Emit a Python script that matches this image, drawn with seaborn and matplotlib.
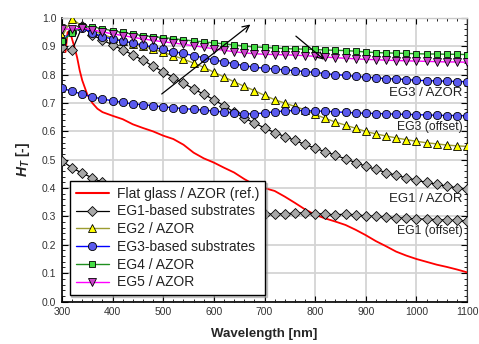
import numpy as np
import pandas as pd
import matplotlib
matplotlib.use("Agg")
import matplotlib.pyplot as plt
from matplotlib.lines import Line2D
from matplotlib.ticker import MultipleLocator, FormatStrFormatter
import seaborn as sns

# ---------------- data ----------------
wl = list(range(300, 1101, 20))

eg1_azor = [0.896, 0.886, 0.970, 0.940, 0.922, 0.905, 0.888, 0.870, 0.851, 0.830,
            0.810, 0.790, 0.770, 0.750, 0.731, 0.712, 0.690, 0.668, 0.647, 0.630,
            0.612, 0.596, 0.582, 0.568, 0.554, 0.541, 0.528, 0.516, 0.503, 0.490,
            0.477, 0.466, 0.455, 0.445, 0.436, 0.428, 0.420, 0.413, 0.407, 0.401, 0.396]
eg1_offset = [0.496, 0.471, 0.453, 0.436, 0.420, 0.405, 0.390, 0.380, 0.370, 0.360,
              0.352, 0.345, 0.338, 0.332, 0.327, 0.322, 0.318, 0.315, 0.312, 0.310,
              0.309, 0.308, 0.310, 0.311, 0.313, 0.310, 0.308, 0.306, 0.308, 0.306,
              0.302, 0.300, 0.297, 0.296, 0.293, 0.292, 0.290, 0.289, 0.287, 0.286, 0.283]
eg2_azor = [0.935, 0.998, 0.970, 0.955, 0.942, 0.930, 0.920, 0.910, 0.900, 0.890,
            0.879, 0.867, 0.855, 0.841, 0.826, 0.809, 0.792, 0.775, 0.759, 0.744,
            0.727, 0.712, 0.700, 0.688, 0.676, 0.660, 0.646, 0.633, 0.622, 0.611,
            0.600, 0.591, 0.584, 0.577, 0.571, 0.565, 0.560, 0.556, 0.552, 0.549, 0.547]
eg3_azor = [0.920, 0.952, 0.965, 0.948, 0.934, 0.926, 0.918, 0.912, 0.904, 0.897,
            0.889, 0.881, 0.875, 0.867, 0.860, 0.852, 0.846, 0.838, 0.832, 0.826,
            0.823, 0.820, 0.817, 0.814, 0.811, 0.808, 0.804, 0.800, 0.798, 0.794,
            0.791, 0.789, 0.786, 0.785, 0.783, 0.780, 0.779, 0.778, 0.777, 0.776, 0.775]
eg3_offset = [0.753, 0.741, 0.732, 0.722, 0.714, 0.708, 0.702, 0.697, 0.694, 0.691,
              0.686, 0.684, 0.680, 0.678, 0.675, 0.672, 0.668, 0.665, 0.662, 0.662,
              0.665, 0.669, 0.672, 0.674, 0.673, 0.672, 0.671, 0.669, 0.667, 0.665,
              0.664, 0.663, 0.662, 0.661, 0.660, 0.659, 0.658, 0.657, 0.656, 0.656, 0.655]
eg4_azor = [0.919, 0.946, 0.970, 0.969, 0.962, 0.955, 0.949, 0.943, 0.938, 0.934,
            0.931, 0.927, 0.923, 0.919, 0.916, 0.912, 0.909, 0.905, 0.901, 0.898,
            0.896, 0.894, 0.892, 0.891, 0.890, 0.889, 0.887, 0.886, 0.885, 0.883,
            0.880, 0.878, 0.877, 0.876, 0.875, 0.874, 0.873, 0.873, 0.872, 0.872, 0.871]
eg5_azor = [0.962, 0.960, 0.965, 0.958, 0.951, 0.944, 0.938, 0.932, 0.926, 0.921,
            0.916, 0.912, 0.907, 0.902, 0.897, 0.891, 0.886, 0.881, 0.877, 0.874,
            0.872, 0.871, 0.870, 0.869, 0.867, 0.865, 0.862, 0.860, 0.858, 0.856,
            0.854, 0.853, 0.851, 0.850, 0.849, 0.848, 0.847, 0.846, 0.845, 0.845, 0.844]

flat_wl = [300, 304, 307, 311, 316, 320, 325, 330, 335, 340, 350, 360, 370, 380, 400,
           420, 440, 460, 480, 500, 520, 540, 560, 580, 600, 620, 640, 660, 680, 700,
           720, 740, 760, 780, 800, 820, 840, 860, 880, 900, 920, 940, 960, 980, 1000,
           1020, 1040, 1060, 1080, 1100]
flat_glass = [0.925, 0.905, 0.880, 0.950, 0.950, 0.925, 0.895, 0.860, 0.815, 0.780,
              0.730, 0.700, 0.680, 0.668, 0.655, 0.643, 0.625, 0.612, 0.600, 0.585,
              0.573, 0.553, 0.525, 0.505, 0.490, 0.472, 0.455, 0.432, 0.412, 0.400,
              0.390, 0.370, 0.348, 0.325, 0.306, 0.293, 0.282, 0.270, 0.253, 0.234,
              0.213, 0.195, 0.176, 0.162, 0.150, 0.140, 0.130, 0.122, 0.113, 0.103]

legend_labels = ["Flat glass / AZOR (ref.)", "EG1-based substrates", "EG2 / AZOR",
                 "EG3-based substrates", "EG4 / AZOR", "EG5 / AZOR"]

# ---------------- style ----------------
sns.set_style("ticks")
plt.rcParams['font.family'] = ['Liberation Sans', 'DejaVu Sans']
plt.rcParams['mathtext.fontset'] = 'custom'
plt.rcParams['mathtext.it'] = 'Liberation Sans:bold:italic'
plt.rcParams['mathtext.rm'] = 'Liberation Sans:bold'

fig = plt.figure(figsize=(4.79, 3.44), dpi=100)
ax = fig.add_axes([0.1294, 0.1235, 0.8456, 0.8242])

df = pd.DataFrame({"wl": wl, "eg1a": eg1_azor, "eg1o": eg1_offset, "eg2": eg2_azor,
                   "eg3a": eg3_azor, "eg3o": eg3_offset, "eg4": eg4_azor, "eg5": eg5_azor})
dff = pd.DataFrame({"wl": flat_wl, "flat": flat_glass})

styles = {
    "flat": dict(color="#ff0000", lw=1.3),
    "eg1": dict(color="black", lw=0.9, marker="D", ms=4.6, mfc="#a8a8a8"),
    "eg2": dict(color="#9c9c30", lw=1.0, marker="^", ms=5.2, mfc="#ffff00"),
    "eg3": dict(color="#0000ff", lw=1.0, marker="o", ms=5.9, mfc="#5a5aee"),
    "eg4": dict(color="#1f8f1f", lw=1.0, marker="s", ms=5.0, mfc="#44dd44"),
    "eg5": dict(color="#ff00ff", lw=1.0, marker="v", ms=5.2, mfc="#cc44cc"),
}

def draw(data, ycol, key, z):
    st = styles[key]
    kw = dict(data=data, x="wl", y=ycol, ax=ax, color=st["color"], linewidth=st["lw"],
              legend=False, estimator=None, sort=False, zorder=z)
    if "marker" in st:
        kw.update(marker=st["marker"], markersize=st["ms"], markerfacecolor=st["mfc"],
                  markeredgecolor="black", markeredgewidth=0.6)
    sns.lineplot(**kw)

draw(dff, "flat", "flat", 3)
draw(df, "eg1o", "eg1", 4)
draw(df, "eg1a", "eg1", 4)
draw(df, "eg2", "eg2", 5)
draw(df, "eg3o", "eg3", 6)
draw(df, "eg3a", "eg3", 6)
draw(df, "eg4", "eg4", 7)
draw(df, "eg5", "eg5", 8)

ax.set_xlim(300, 1100)
ax.set_ylim(0, 1.0)
ax.xaxis.set_major_locator(MultipleLocator(100))
ax.xaxis.set_minor_locator(MultipleLocator(20))
ax.yaxis.set_major_locator(MultipleLocator(0.1))
ax.yaxis.set_minor_locator(MultipleLocator(0.02))
ax.yaxis.set_major_formatter(FormatStrFormatter('%.1f'))
ax.tick_params(which='both', direction='in', top=True, right=True, labelsize=7.5,
               colors='black', labelcolor='#333333', pad=4)
ax.tick_params(which='major', length=4, width=0.8)
ax.tick_params(which='minor', length=2.2, width=0.6)
ax.grid(True, which='major', color='#d4d4d4', linewidth=1.3, zorder=0)
ax.set_axisbelow(True)
for s in ['left', 'bottom']:
    ax.spines[s].set_color('black')
    ax.spines[s].set_linewidth(1.2)
ax.spines['right'].set_color('#333333')
ax.spines['right'].set_linewidth(0.8)
ax.spines['top'].set_color('#c8c8c8')
ax.spines['top'].set_linewidth(1.0)

ax.set_xlabel("Wavelength [nm]", fontsize=9.5, fontweight='bold', labelpad=8)
ax.set_ylabel("$H_T$ [-]", fontsize=10, fontweight='bold', labelpad=7)

# annotations
ax.text(1091, 0.736, "EG3 / AZOR", ha='right', va='center', fontsize=9.5, color='#222222')
ax.text(1091, 0.617, "EG3 (offset)", ha='right', va='center', fontsize=8.8, color='#222222')
ax.text(1091, 0.361, "EG1 / AZOR", ha='right', va='center', fontsize=9.5, color='#222222')
ax.text(1091, 0.247, "EG1 (offset)", ha='right', va='center', fontsize=8.8, color='#222222')

ax.annotate("", xy=(672, 0.977), xytext=(497, 0.732),
            arrowprops=dict(arrowstyle='->', color='black', lw=0.9,
                            shrinkA=0, shrinkB=0, mutation_scale=12), zorder=10)
ax.annotate("", xy=(818, 0.853), xytext=(762, 0.936),
            arrowprops=dict(arrowstyle='->', color='black', lw=0.9,
                            shrinkA=0, shrinkB=0, mutation_scale=12), zorder=10)

# legend
keys = ["flat", "eg1", "eg2", "eg3", "eg4", "eg5"]
handles = []
for k in keys:
    st = styles[k]
    if "marker" in st:
        h = Line2D([], [], color=st["color"], lw=st["lw"], marker=st["marker"],
                   markersize=st["ms"], markerfacecolor=st["mfc"],
                   markeredgecolor="black", markeredgewidth=0.6)
    else:
        h = Line2D([], [], color=st["color"], lw=1.5)
    handles.append(h)
leg = ax.legend(handles, legend_labels, loc='lower left', bbox_to_anchor=(0.019, 0.022),
                fontsize=10, frameon=True, fancybox=False, framealpha=1,
                edgecolor='black', handlelength=2.4, handletextpad=0.6,
                labelspacing=0.27, borderpad=0.42, borderaxespad=0,
                shadow={'color': '0.6', 'alpha': 0.5, 'ox': 1.2, 'oy': -1.2})
leg.get_frame().set_linewidth(1.0)
leg.set_zorder(20)
for t in leg.get_texts():
    t.set_color('#222222')

fig.savefig("out.png", dpi=100)
